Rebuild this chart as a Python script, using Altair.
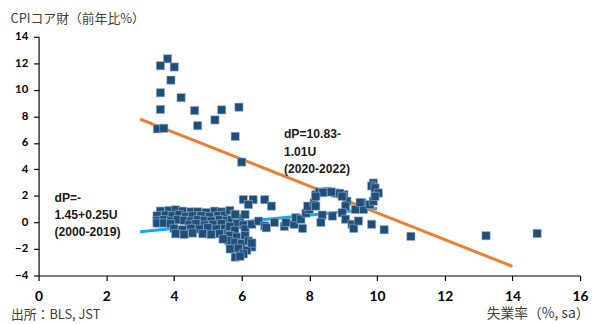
import altair as alt
import pandas as pd

# 2000-2019 scatter: unemployment rate (x), core goods CPI yoy (y)
u_2000 = [3.6, 3.85, 4.05, 4.25, 4.5, 4.7, 4.95, 5.2, 5.4,
          3.5, 3.75, 3.95, 4.15, 4.35, 4.55, 4.8, 5.05, 5.3, 5.5,
          3.5, 3.7, 3.9, 4.1, 4.3, 4.5, 4.7, 4.9, 5.1, 5.35, 5.55,
          3.5, 3.7, 3.9, 4.45, 4.65, 4.9, 5.15, 5.4,
          4.0, 4.25, 4.5, 4.75, 5.0, 5.25, 5.5,
          4.05, 4.3, 4.55, 4.85, 5.1, 5.35, 5.6,
          5.65, 5.8, 5.95, 5.7, 5.85, 6.05, 5.65, 5.8, 6.1, 5.65, 5.85, 6.1,
          5.62, 5.8, 6.0, 6.2, 5.66, 5.9, 6.3, 6.15, 6.05, 5.81, 5.95, 5.45, 6.3,
          6.1, 5.81, 6.3, 6.5, 6.68, 6.97, 7.26, 7.31, 7.55, 7.8, 6.73, 7.6, 7.75,
          7.9, 8.0, 7.95, 8.14,
          6.05, 6.34, 6.2, 6.68, 6.88,
          8.19, 8.29, 8.53, 8.77, 9.02, 8.4, 8.65, 8.9, 9.11, 9.07, 8.97, 9.07,
          9.26, 9.31, 9.45, 9.55, 9.6, 9.79, 9.89, 8.19, 8.19, 8.38, 8.68, 8.34,
          8.97, 9.36, 9.5,
          9.89, 9.84, 9.94, 10.04, 9.94]
p_2000 = [0.85, 0.9, 0.95, 0.85, 0.8, 0.8, 0.75, 0.85, 0.8,
          0.5, 0.55, 0.5, 0.6, 0.45, 0.5, 0.5, 0.45, 0.5, 0.55,
          0.15, 0.2, 0.1, 0.2, 0.15, 0.1, 0.2, 0.15, 0.1, 0.2, 0.15,
          -0.05, -0.05, -0.1, -0.15, -0.1, -0.2, -0.15, -0.1,
          -0.45, -0.55, -0.45, -0.5, -0.4, -0.5, -0.45,
          -0.85, -0.9, -0.8, -0.85, -0.9, -0.85, -0.8,
          0.9, 0.6, 0.35, 0.2, -0.1, -0.2, -0.3, -0.6, -0.5, -1.0, -1.1, -1.0,
          -1.38, -1.5, -1.6, -1.4, -2.0, -1.95, -1.85, -2.1, -2.37, -2.62, -2.55, -1.25, -1.55,
          0.6, 0.61, -0.14, 0.1, -0.26, 0.0, -0.3, 0.0, -0.14, -0.45, -0.4, 0.36, 0.24,
          0.7, 0.98, 1.23, 1.48,
          1.72, 1.72, 1.35, 1.72, 1.23,
          2.1, 2.3, 2.34, 2.22, 2.1, 2.25, 2.3, 2.2, 1.6, 1.23, 0.73, 0.24,
          -0.14, -0.45, 0.11, 1.48, 0.98, 1.35, 1.6, 1.97, 1.23, 0.55, 0.48, 0.0,
          1.97, 0.98, 1.5,
          2.97, 2.75, 2.6, 2.22, 1.97]

# 2020-2022 scatter
u_2020 = [3.81, 3.60, 4.01, 3.91, 3.60, 4.21, 3.60, 4.61, 5.41, 5.92, 5.21, 4.70,
          3.51, 3.70, 5.81, 6.0, 9.84, 10.21, 11.0, 13.22, 14.73]
p_2020 = [12.34, 11.82, 11.72, 10.73, 9.78, 9.41, 8.52, 8.44, 8.49, 8.69, 7.73, 7.30,
          7.06, 7.10, 6.49, 4.55, -0.14, -0.55, -1.05, -1.0, -0.83]

# regression lines (end points)
fit_series = ["2000-2019", "2000-2019", "2020-2022", "2020-2022"]
fit_u = [3.0, 10.0, 3.0, 14.0]
fit_p = [-0.7, 1.05, 7.8, -3.31]

# annotations
note_text = ["dP=-\n1.45+0.25U\n(2000-2019)", "dP=10.83-\n1.01U\n(2020-2022)"]
note_u = [0.47, 7.25]
note_p = [2.32, 7.08]

x_ticks = list(range(0, 17, 2))
y_ticks = list(range(-4, 15, 2))

pts = pd.DataFrame({"u": u_2000 + u_2020, "p": p_2000 + p_2020})
fit = pd.DataFrame({"s": fit_series, "u": fit_u, "p": fit_p})
notes = pd.DataFrame({"t": note_text, "u": note_u, "p": note_p})

xs = alt.Scale(domain=[0, 16], nice=False, zero=False)
ys = alt.Scale(domain=[-4, 14], nice=False, zero=False)

x_axis = alt.Axis(values=x_ticks,
                  title="失業率（%, sa）", titleFont="Noto Sans CJK JP", titleFontSize=14,
                  titleFontWeight="normal", titleColor="#404040", titleAnchor="end",
                  titleAlign="right", titleX=558, titleY=39, titleBaseline="middle",
                  labelFontSize=14, labelPadding=9)
y_axis = alt.Axis(values=y_ticks,
                  title="CPIコア財（前年比%）", titleFont="Noto Sans CJK JP", titleFontSize=13,
                  titleFontWeight="normal", titleColor="#404040", titleAngle=0,
                  titleAlign="left", titleBaseline="middle", titleX=-29, titleY=-18,
                  labelFontSize=11.5, labelPadding=6)

lines = alt.Chart(fit).mark_line(strokeWidth=3).encode(
    x=alt.X("u:Q", scale=xs, axis=x_axis),
    y=alt.Y("p:Q", scale=ys, axis=y_axis),
    color=alt.Color("s:N", scale=alt.Scale(domain=["2000-2019", "2020-2022"],
                                           range=["#12ABEB", "#ED7D31"]), legend=None),
    detail="s:N",
)

points = alt.Chart(pts).mark_point(shape="square", filled=True, size=70, color="#1F4E79",
                                   opacity=1, stroke="#9DB8D3", strokeWidth=0.6).encode(
    x=alt.X("u:Q", scale=xs, axis=x_axis),
    y=alt.Y("p:Q", scale=ys, axis=y_axis),
)

texts = alt.Chart(notes).mark_text(align="left", baseline="top", lineBreak="\n",
                                   lineHeight=17.5, font="Liberation Sans",
                                   fontWeight="bold", fontSize=12.3, color="#1a1a1a").encode(
    x=alt.X("u:Q", scale=xs, axis=x_axis),
    y=alt.Y("p:Q", scale=ys, axis=y_axis),
    text="t:N",
)

source = alt.Chart(pd.DataFrame({"t": ["出所：BLS, JST"]})).mark_text(
    align="left", baseline="middle", font="Noto Sans CJK JP", fontSize=13,
    color="#404040").encode(x=alt.value(-28), y=alt.value(282), text="t:N")

chart = alt.layer(lines, points, texts, source).properties(
    width=549, height=242,
    autosize=alt.AutoSizeParams(type="none"),
    padding={"left": 31, "top": 27, "right": 9, "bottom": 47},
).configure_view(stroke=None).configure_axis(
    grid=False, domainColor="black", domainWidth=1.2, tickWidth=1.2, tickColor="black",
    tickSize=5, labelFlush=False, labelOverlap=False, labelFont="Lato",
    labelFontWeight="bold", labelColor="black",
)

chart.save("out.html", embed_options={"renderer": "svg", "actions": False})
